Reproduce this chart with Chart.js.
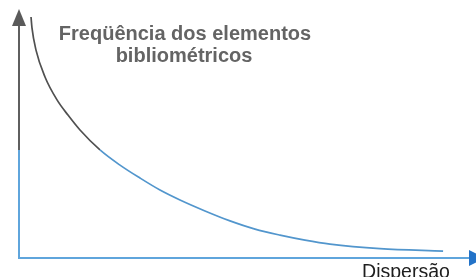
<!DOCTYPE html>
<html>
<head>
<meta charset="utf-8">
<script src="https://cdn.jsdelivr.net/npm/chart.js@4"></script>
<style>
  html, body { margin: 0; padding: 0; background: #fff; }
  #wrap { width: 476px; height: 277px; }
</style>
</head>
<body>
<div id="wrap"><canvas id="curve-chart"></canvas></div>
<script>
// dispersion (0-100) vs frequency (0-100)
const dispersao = [2.63, 2.84, 3.72, 5.69, 8.32, 10.72, 13.35, 17.72, 22.1, 26.48, 30.85, 35.23, 40.7, 46.17, 51.64, 57.11, 62.58, 68.05, 79.0, 92.8];
const frequencia = [96.8, 92.4, 83.5, 72.7, 63.5, 57.4, 51.4, 43.4, 37.3, 32.1, 27.3, 23.3, 18.9, 14.9, 11.6, 9.2, 7.2, 5.6, 3.8, 2.8];
const tituloLinhas = ['Freqüência dos elementos', 'bibliométricos'];
const eixoXLabel = 'Dispersão';

const darkGray = 'rgb(80, 80, 80)';
const lineBlue = 'rgb(82, 150, 205)';
const axisBlue = 'rgb(95, 165, 220)';
const arrowBlue = 'rgb(35, 115, 200)';
const colorSwitchX = 17;
const colorSwitchY = 43.4;

const curveData = {
  datasets: [{
    data: dispersao.map((x, i) => ({ x: x, y: frequencia[i] })),
    borderColor: lineBlue,
    borderWidth: 1.7,
    pointRadius: 0,
    cubicInterpolationMode: 'monotone',
    segment: {
      borderColor: ctx => ctx.p0.parsed.x < colorSwitchX ? darkGray : lineBlue
    }
  }]
};

const axesPlugin = {
  id: 'axesPlugin',
  afterDraw(chart) {
    const c = chart.ctx;
    const xs = chart.scales.x;
    const ys = chart.scales.y;
    const x0 = xs.getPixelForValue(0);
    const y0 = ys.getPixelForValue(0);
    const ySwitch = ys.getPixelForValue(colorSwitchY);
    const yTop = ys.getPixelForValue(100);
    c.save();
    c.lineWidth = 2;
    // y axis
    c.strokeStyle = axisBlue;
    c.beginPath(); c.moveTo(x0, y0); c.lineTo(x0, ySwitch); c.stroke();
    c.strokeStyle = 'rgb(95, 95, 95)';
    c.beginPath(); c.moveTo(x0, ySwitch); c.lineTo(x0, yTop + 12); c.stroke();
    c.fillStyle = 'rgb(90, 90, 90)';
    c.beginPath();
    c.moveTo(x0, yTop);
    c.lineTo(x0 - 7, yTop + 17);
    c.lineTo(x0 + 7, yTop + 17);
    c.closePath(); c.fill();
    // x axis
    const xEnd = xs.getPixelForValue(100);
    c.strokeStyle = axisBlue;
    c.beginPath(); c.moveTo(x0 - 1, y0); c.lineTo(xEnd - 6, y0); c.stroke();
    c.fillStyle = arrowBlue;
    c.beginPath();
    c.moveTo(xEnd - 7, y0 - 8);
    c.lineTo(xEnd + 9, y0);
    c.lineTo(xEnd - 7, y0 + 8);
    c.closePath(); c.fill();
    // texts
    c.textAlign = 'center';
    c.textBaseline = 'alphabetic';
    c.fillStyle = 'rgb(100, 100, 100)';
    c.font = "bold 20px 'Liberation Sans', Arial, sans-serif";
    c.fillText(tituloLinhas[0], 185, 40);
    c.fillText(tituloLinhas[1], 184, 62);
    c.fillStyle = 'rgb(30, 30, 30)';
    c.font = "19.5px 'Liberation Sans', Arial, sans-serif";
    c.fillText(eixoXLabel, 406, 278);
    c.restore();
  }
};

const curveConfig = {
  type: 'line',
  data: curveData,
  options: {
    responsive: true,
    maintainAspectRatio: false,
    animation: false,
    layout: {
      padding: { left: 19, right: 0, top: 9, bottom: 19 }
    },
    plugins: {
      legend: { display: false },
      tooltip: { enabled: false }
    },
    scales: {
      x: { type: 'linear', min: 0, max: 100, display: false },
      y: { min: 0, max: 100, display: false }
    }
  },
  plugins: [axesPlugin]
};

const curveChart = new Chart(
  document.getElementById('curve-chart'),
  curveConfig
);
</script>
</body>
</html>
